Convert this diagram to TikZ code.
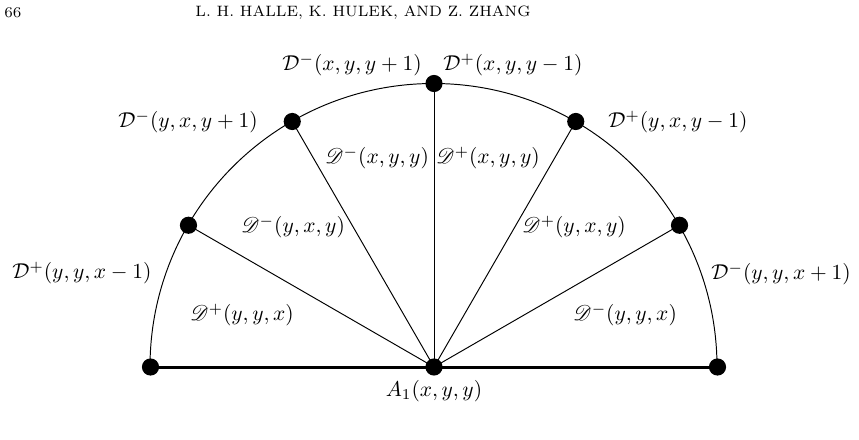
\documentclass[tikz,border=0pt]{standalone}
\usepackage{amsmath,amssymb,mathrsfs}
\usetikzlibrary{calc}
\begin{document}
\begin{tikzpicture}[x=0.4657pt,y=-0.4657pt,
  dot/.style={circle,fill=black,inner sep=0pt,minimum size=8pt},
  lab/.style={inner sep=0pt,font=\normalsize},
  thinline/.style={line width=0.45pt},
  baseline/.style={line width=1.4pt}]
\useasboundingbox (0,0) rectangle (859,439);
% header
\node[inner sep=0pt,anchor=west,font=\scriptsize] (pg) at (4,13) {66};
\node[inner sep=0pt,font=\scriptsize] (hd) at (363,13) {L. H. HALLE, K. HULEK, AND Z. ZHANG};
% geometry
\coordinate (O) at (434,367);
\draw[thinline] (717,367) arc[start angle=0,end angle=-180,radius=283.5];
\foreach \a/\n in {0/p0,30/p1,60/p2,90/p3,120/p4,150/p5,180/p6}{
  \coordinate (\n) at ($(O)+(-\a:283.5)$);
}
\draw[baseline] (p6) -- (p0);
\foreach \n in {p1,p2,p3,p4,p5}{ \draw[thinline] (O) -- (\n); }
\foreach \n in {p0,p1,p2,p3,p4,p5,p6}{ \node[dot] (d\n) at (\n) {}; }
\node[dot] (A) at (O) {};
% labels
\node[lab] (l1) at (352,65) {$\mathcal{D}^-(x,y,y+1)$};
\node[lab] (l2) at (513,65) {$\mathcal{D}^+(x,y,y-1)$};
\node[lab] (l3) at (188,122) {$\mathcal{D}^-(y,x,y+1)$};
\node[lab] (l4) at (678,122) {$\mathcal{D}^+(y,x,y-1)$};
\node[lab] (l5) at (82,273) {$\mathcal{D}^+(y,y,x-1)$};
\node[lab] (l6) at (781,274) {$\mathcal{D}^-(y,y,x+1)$};
\node[lab] (m1) at (377,158) {$\mathscr{D}^-(x,y,y)$};
\node[lab] (m2) at (488,158) {$\mathscr{D}^+(x,y,y)$};
\node[lab] (m3) at (293,227) {$\mathscr{D}^-(y,x,y)$};
\node[lab] (m4) at (574,227) {$\mathscr{D}^+(y,x,y)$};
\node[lab] (m5) at (242,315) {$\mathscr{D}^+(y,y,x)$};
\node[lab] (m6) at (625,315) {$\mathscr{D}^-(y,y,x)$};
\node[lab] (a1) at (434,391) {$A_1(x,y,y)$};
\end{tikzpicture}
\end{document}
